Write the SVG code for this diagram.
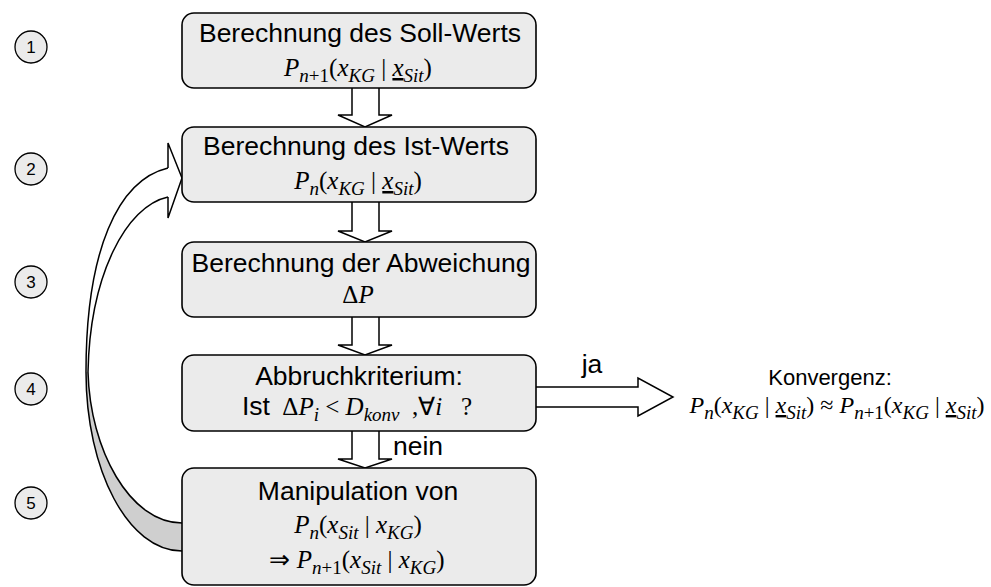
<svg xmlns="http://www.w3.org/2000/svg" width="991" height="587" viewBox="0 0 991 587">
  <style>
    .box { fill: #ebebeb; stroke: #000; stroke-width: 1.6; }
    .step { fill: #ebebeb; stroke: #000; stroke-width: 1.3; }
    .hollow { fill: #fff; stroke: #000; stroke-width: 1.5; stroke-linejoin: miter; }
    .line { fill: none; stroke: #000; stroke-width: 1.5; }
    .t { font-family: "Liberation Sans", Arial, sans-serif; font-size: 26.5px; fill: #000; text-anchor: middle; }
    .num { font-family: "Liberation Sans", Arial, sans-serif; font-size: 17px; fill: #000; text-anchor: middle; }
    .m { font-family: "Liberation Serif", "Times New Roman", serif; font-size: 25px; fill: #000; text-anchor: middle; white-space: pre; }
    .i { font-style: italic; }
    .s { font-size: 19px; }
    .u { text-decoration: underline; }
  </style>

  <!-- step numbers -->
  <g id="steps">
    <g id="step1"><circle class="step" cx="31" cy="47" r="16"/><text class="num" x="31" y="53">1</text></g>
    <g id="step2"><circle class="step" cx="31" cy="169" r="16"/><text class="num" x="31" y="175">2</text></g>
    <g id="step3"><circle class="step" cx="31" cy="282" r="16"/><text class="num" x="31" y="288">3</text></g>
    <g id="step4"><circle class="step" cx="31" cy="389" r="16"/><text class="num" x="31" y="395">4</text></g>
    <g id="step5"><circle class="step" cx="31" cy="503" r="16"/><text class="num" x="31" y="509">5</text></g>
  </g>

  <!-- connectors: block arrows and the feedback loop -->
  <g id="connectors">
    <path class="hollow" d="M352,88 L352,115 L338,115 L365,127 L392,115 L379,115 L379,88"/>
    <path class="hollow" d="M352,202 L352,231 L338,231 L365,242 L392,231 L379,231 L379,202"/>
    <path class="hollow" d="M352,317 L352,345 L338,345 L365,355 L392,345 L379,345 L379,317"/>
    <path class="hollow" d="M352,431 L352,459 L338,459 L365,468 L392,459 L379,459 L379,431"/>
    <path class="hollow" d="M536,387 L638,387 L638,378 L673,397 L638,416 L638,407 L536,407"/>

    <!-- feedback loop: curved ribbon arrow back to step 2 -->
    <path d="M168,168 C118,180 86,250 86,372 L88,372 C90,275 126,206 168,197 Z" fill="#fff"/>
    <path d="M86,372 C86,470 128,551 182,551 L182,523 C130,523 90,450 88,372 Z" fill="#cfcfcf"/>
    <path class="line" d="M168,168 C118,180 86,250 86,372 C86,470 128,551 182,551"/>
    <path class="line" d="M168,197 C126,206 90,275 88,372 C90,450 130,523 182,523"/>
    <path class="hollow" d="M168,168 L168,143 L182,178 L168,218 L168,197"/>

    <text class="t" x="592" y="373">ja</text>
    <text class="t" x="393" y="455" style="text-anchor:start">nein</text>
  </g>

  <g id="soll">
    <rect class="box" x="182" y="13" width="354" height="75" rx="12"/>
    <text class="t" x="360" y="42">Berechnung des Soll-Werts</text>
    <text class="m" x="358" y="76"><tspan class="i">P</tspan><tspan class="s" dy="6"><tspan class="i">n</tspan>+1</tspan><tspan dy="-6">(</tspan><tspan class="i">x</tspan><tspan class="s i" dy="6">KG</tspan><tspan dy="-6"> | </tspan><tspan class="i u">x</tspan><tspan class="s i" dy="6">Sit</tspan><tspan dy="-6">)</tspan></text>
  </g>

  <g id="ist">
    <rect class="box" x="182" y="127" width="354" height="75" rx="12"/>
    <text class="t" x="356" y="155">Berechnung des Ist-Werts</text>
    <text class="m" x="358" y="189"><tspan class="i">P</tspan><tspan class="s i" dy="6">n</tspan><tspan dy="-6">(</tspan><tspan class="i">x</tspan><tspan class="s i" dy="6">KG</tspan><tspan dy="-6"> | </tspan><tspan class="i u">x</tspan><tspan class="s i" dy="6">Sit</tspan><tspan dy="-6">)</tspan></text>
  </g>

  <g id="abweichung">
    <rect class="box" x="182" y="242" width="354" height="75" rx="12"/>
    <text class="t" x="361" y="272">Berechnung der Abweichung</text>
    <text class="m" x="358" y="303">Δ<tspan class="i">P</tspan></text>
  </g>

  <g id="abbruch">
    <rect class="box" x="182" y="355" width="354" height="76" rx="12"/>
    <text class="t" x="359" y="385">Abbruchkriterium:</text>
    <text class="m" x="357" y="415"><tspan style="font-family:'Liberation Sans',Arial,sans-serif;font-size:26.5px">Ist</tspan>  Δ<tspan class="i">P</tspan><tspan class="s i" dy="6">i</tspan><tspan dy="-6"> &lt; </tspan><tspan class="i">D</tspan><tspan class="s i" dy="6">konv</tspan><tspan dy="-6">  ,∀</tspan><tspan class="i">i</tspan>   ?</text>
  </g>

  <g id="manipulation">
    <rect class="box" x="182" y="468" width="354" height="117" rx="12"/>
    <text class="t" x="358" y="500">Manipulation von</text>
    <text class="m" x="358" y="533"><tspan class="i">P</tspan><tspan class="s i" dy="6">n</tspan><tspan dy="-6">(</tspan><tspan class="i">x</tspan><tspan class="s i" dy="6">Sit</tspan><tspan dy="-6"> | </tspan><tspan class="i">x</tspan><tspan class="s i" dy="6">KG</tspan><tspan dy="-6">)</tspan></text>
    <text class="m" x="357" y="568">⇒ <tspan class="i">P</tspan><tspan class="s" dy="6"><tspan class="i">n</tspan>+1</tspan><tspan dy="-6">(</tspan><tspan class="i">x</tspan><tspan class="s i" dy="6">Sit</tspan><tspan dy="-6"> | </tspan><tspan class="i">x</tspan><tspan class="s i" dy="6">KG</tspan><tspan dy="-6">)</tspan></text>
  </g>

  <g id="konvergenz">
    <text class="t" x="830" y="385" style="font-size:22px">Konvergenz:</text>
    <text class="m" x="837" y="413" style="font-size:24px"><tspan class="i">P</tspan><tspan class="s i" dy="6">n</tspan><tspan dy="-6">(</tspan><tspan class="i">x</tspan><tspan class="s i" dy="6">KG</tspan><tspan dy="-6"> | </tspan><tspan class="i u">x</tspan><tspan class="s i" dy="6">Sit</tspan><tspan dy="-6">) ≈ </tspan><tspan class="i">P</tspan><tspan class="s" dy="6"><tspan class="i">n</tspan>+1</tspan><tspan dy="-6">(</tspan><tspan class="i">x</tspan><tspan class="s i" dy="6">KG</tspan><tspan dy="-6"> | </tspan><tspan class="i u">x</tspan><tspan class="s i" dy="6">Sit</tspan><tspan dy="-6">)</tspan></text>
  </g>
</svg>
